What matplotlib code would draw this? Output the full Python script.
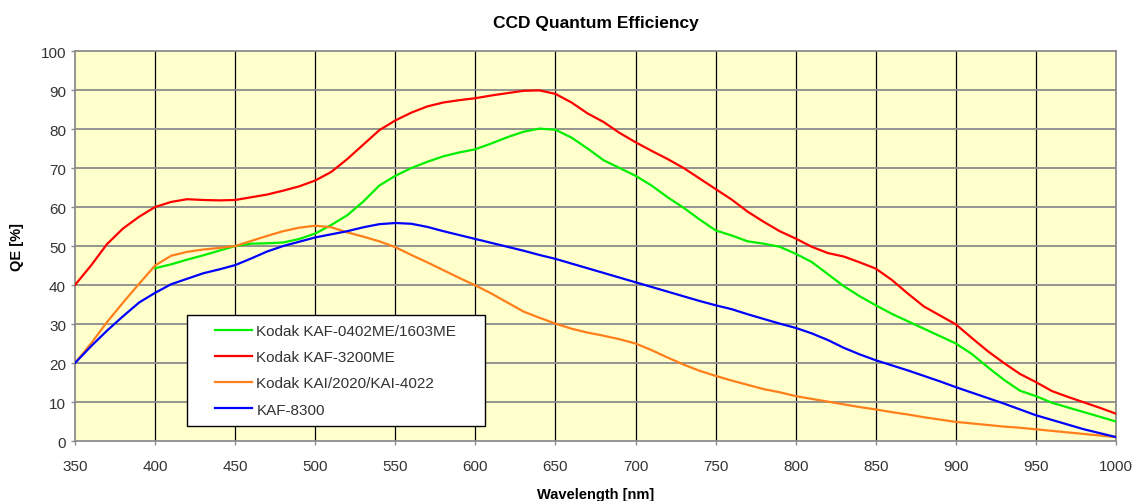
import matplotlib
matplotlib.use("Agg")
import matplotlib.pyplot as plt
from matplotlib.patches import Rectangle
import numpy as np

plt.rcParams["font.family"] = ["Liberation Sans", "DejaVu Sans"]

# wavelength grids (nm)
wl_full = np.arange(350, 1001, 10)
wl_green = np.arange(400, 1001, 10)

qe_kaf0402 = [
    44.3, 45.3, 46.5, 47.6, 48.8, 50.0, 50.6, 50.7, 50.9, 51.8,
    53.2, 55.4, 57.9, 61.4, 65.5, 68.0, 70.0, 71.6, 73.0, 74.0,
    74.8, 76.3, 77.9, 79.3, 80.1, 79.8, 77.8, 75.0, 72.0, 70.0,
    68.0, 65.5, 62.5, 59.8, 56.8, 54.0, 52.7, 51.2, 50.6, 49.8,
    48.0, 45.9, 42.8, 39.7, 37.1, 34.8, 32.6, 30.7, 28.8, 26.9,
    25.0, 22.3, 18.9, 15.7, 12.9, 11.5, 9.8, 8.6, 7.4, 6.2, 5.0,
]
qe_kaf3200 = [
    40.0, 45.0, 50.5, 54.5, 57.5, 60.0, 61.3, 62.0, 61.8, 61.7,
    61.8, 62.5, 63.2, 64.2, 65.3, 66.8, 69.0, 72.3, 76.0, 79.7,
    82.2, 84.2, 85.8, 86.8, 87.4, 87.9, 88.6, 89.2, 89.8, 89.9,
    89.0, 86.8, 84.0, 81.8, 79.0, 76.6, 74.4, 72.3, 70.0, 67.3,
    64.6, 61.9, 58.8, 56.2, 53.8, 51.9, 49.8, 48.2, 47.3, 45.8,
    44.2, 41.3, 37.8, 34.5, 32.2, 29.9, 26.4, 23.0, 20.0, 17.2,
    15.1, 12.8, 11.3, 9.9, 8.5, 7.0,
]
qe_kai2020 = [
    20.0, 25.0, 30.5, 35.5, 40.3, 45.0, 47.5, 48.5, 49.1, 49.5,
    50.0, 51.3, 52.6, 53.8, 54.7, 55.2, 54.8, 53.5, 52.4, 51.2,
    49.7, 47.7, 45.8, 43.8, 41.8, 39.9, 37.8, 35.5, 33.2, 31.6,
    30.1, 28.8, 27.8, 27.0, 26.1, 25.0, 23.3, 21.4, 19.6, 18.0,
    16.7, 15.5, 14.4, 13.3, 12.5, 11.5, 10.8, 10.1, 9.4, 8.7,
    8.1, 7.4, 6.8, 6.1, 5.5, 4.9, 4.5, 4.1, 3.7, 3.4,
    3.0, 2.6, 2.2, 1.8, 1.4, 1.0,
]
qe_kaf8300 = [
    20.0, 24.3, 28.3, 32.0, 35.5, 38.0, 40.2, 41.6, 43.0, 44.0,
    45.1, 46.8, 48.6, 50.0, 51.1, 52.2, 53.0, 53.8, 54.8, 55.6,
    55.9, 55.7, 54.9, 53.8, 52.8, 51.8, 50.8, 49.8, 48.8, 47.7,
    46.7, 45.5, 44.3, 43.1, 41.9, 40.7, 39.5, 38.3, 37.1, 35.9,
    34.8, 33.8, 32.5, 31.3, 30.1, 29.0, 27.6, 25.9, 23.9, 22.2,
    20.7, 19.4, 18.1, 16.7, 15.3, 13.8, 12.4, 11.0, 9.6, 8.1,
    6.6, 5.4, 4.2, 3.0, 2.0, 1.0,
]

series = [
    ("Kodak KAF-0402ME/1603ME", wl_green, qe_kaf0402, "#00ee00"),
    ("Kodak KAF-3200ME", wl_full, qe_kaf3200, "#ff0000"),
    ("Kodak KAI/2020/KAI-4022", wl_full, qe_kai2020, "#ff7f1a"),
    ("KAF-8300", wl_full, qe_kaf8300, "#0000ff"),
]

fig = plt.figure(figsize=(11.4, 5.02), dpi=100)
ax = fig.add_axes([0.0658, 0.1195, 0.9132, 0.7769])
ax.set_facecolor("#ffffcc")

for label, x, y, color in series:
    ax.plot(x, y, color=color, lw=1.6, label=label, zorder=3)

ax.set_xlim(350, 1000)
ax.set_ylim(0, 100)
ax.set_xticks(np.arange(350, 1001, 50))
ax.set_yticks(np.arange(0, 101, 10))

for v in np.arange(400, 1000, 50):
    ax.axvline(v, color="black", lw=0.9, zorder=1)
for v in np.arange(10, 100, 10):
    ax.axhline(v, color="#8c8c8c", lw=1.3, zorder=1)

for s in ax.spines.values():
    s.set_color("#8c8c8c")
    s.set_linewidth(1.3)
ax.tick_params(direction="out", length=3, color="#8c8c8c", labelsize=11,
               labelcolor="#333333", width=1)
ax.tick_params(axis="x", pad=10)

ax.set_xlabel("Wavelength [nm]", fontsize=10.5, fontweight="bold", labelpad=10)
ax.set_ylabel("QE [%]", fontsize=10.5, fontweight="bold", labelpad=12)
ax.set_title("CCD Quantum Efficiency", fontsize=12.5, fontweight="bold", pad=17)

# white legend box with black border, legend entries placed inside it
ax.add_patch(Rectangle((0.1076, 0.0385), 0.2863, 0.2846, transform=ax.transAxes,
                       facecolor="white", edgecolor="black", lw=1.0, zorder=4))
leg = ax.legend(loc="upper left", bbox_to_anchor=(0.1345, 0.300), fontsize=11,
                frameon=False, handlelength=2.4, handletextpad=0.3,
                borderpad=0, labelspacing=0.8, borderaxespad=0)
leg.set_zorder(5)
for t in leg.get_texts():
    t.set_color("#333333")

fig.savefig("out.png", dpi=100)
